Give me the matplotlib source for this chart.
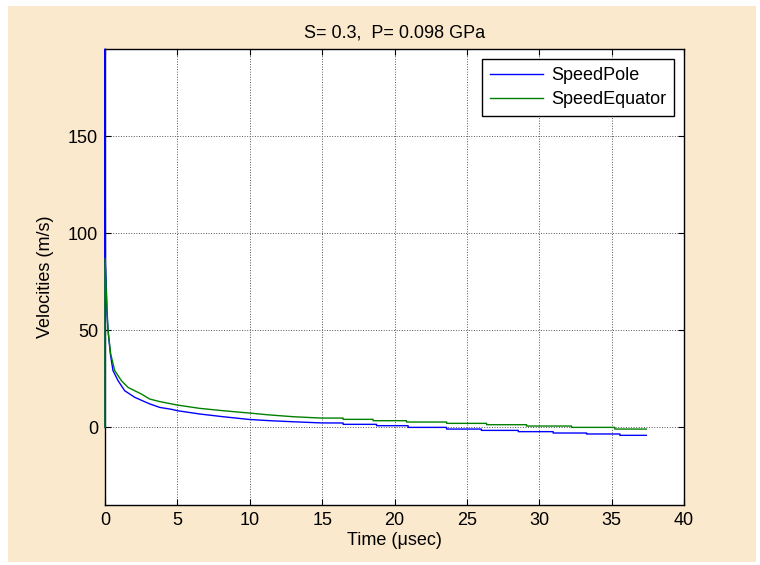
import matplotlib

matplotlib.use("Agg")

import matplotlib.pyplot as plt  # noqa: E402
from matplotlib.patches import Rectangle  # noqa: E402

plt.rcParams["font.family"] = ["Liberation Sans", "DejaVu Sans"]

_BG = "#fbe9cd"

title = "S= 0.3,  P= 0.098 GPa"
x_label = "Time (\u03bcsec)"
y_label = "Velocities (m/s)"
series_names = ["SpeedPole", "SpeedEquator"]

# SpeedPole (blue); tail is a staircase
pole_t = [0.0, 0.003, 0.03, 0.10, 0.14, 0.21, 0.37, 0.55, 0.90, 1.36, 2.05,
          3.09, 3.78, 4.6, 5.0, 6.54, 8.15, 9.95, 11.38, 13.0, 14.93, 16.45,
          16.45, 18.76, 18.76, 20.94, 20.94, 23.6, 23.6, 26.0, 26.0, 28.55,
          28.55, 30.96, 30.96, 33.27, 33.27, 35.57, 35.57, 37.4]
pole_v = [0.0, 195.0, 85.0, 70.0, 58.5, 49.9, 37.9, 29.3, 24.1, 18.9, 15.5,
          12.1, 10.3, 9.3, 8.6, 6.9, 5.5, 4.1, 3.45, 2.9, 2.3, 2.26,
          1.57, 1.57, 0.88, 0.88, 0.0, 0.0, -0.86, -0.86, -1.55, -1.55,
          -2.2, -2.2, -2.9, -2.9, -3.4, -3.4, -4.1, -4.1]

# SpeedEquator (green)
equator_t = [0.0, 0.003, 0.10, 0.21, 0.39, 0.67, 1.13, 1.59, 2.51, 3.09,
             3.78, 5.0, 6.54, 8.15, 9.95, 11.38, 13.0, 14.93, 16.45, 16.45,
             18.52, 18.52, 20.83, 20.83, 23.6, 23.6, 26.36, 26.36, 29.12,
             29.12, 32.23, 32.23, 35.22, 35.22, 37.4]
equator_v = [0.0, 87.0, 67.0, 50.0, 38.0, 29.3, 24.1, 20.6, 17.2, 14.6,
             13.3, 11.5, 9.8, 8.6, 7.4, 6.4, 5.5, 4.8, 4.8, 4.14,
             4.14, 3.45, 3.45, 2.76, 2.76, 2.07, 2.07, 1.38, 1.38,
             0.69, 0.69, 0.0, 0.0, -0.86, -0.86]

x_ticks = [0, 5, 10, 15, 20, 25, 30, 35, 40]
y_ticks = [0, 50, 100, 150]

fig = plt.figure(figsize=(7.6, 5.65), dpi=100, facecolor="white")
# peach panel with a thin white border, as in the exported MATLAB figure
fig.add_artist(Rectangle((8 / 760, 3 / 565), 748 / 760, 556 / 565,
                         transform=fig.transFigure, facecolor=_BG,
                         edgecolor="none", zorder=-10))
ax = fig.add_axes([105 / 760, 60 / 565, 579 / 760, 456 / 565])

# unclipped so the t=0 jump draws over the left spine, as in MATLAB
ax.plot(pole_t, pole_v, color="#0000ff", lw=1.0, label=series_names[0],
        clip_on=False, zorder=3)
ax.plot(equator_t, equator_v, color="#008000", lw=1.0,
        label=series_names[1], clip_on=False, zorder=3)

ax.set_xlim(0, 40)
ax.set_ylim(-40, 195)
ax.set_xticks(x_ticks)
ax.set_yticks(y_ticks)
ax.tick_params(direction="in", top=True, right=True, labelsize=13,
               length=4, width=0.8, pad=5)
ax.grid(True, color="#555555", linestyle=":", lw=0.7)
for sp in ax.spines.values():
    sp.set_linewidth(1.0)

ax.set_title(title, fontsize=13, pad=8)
ax.set_xlabel(x_label, fontsize=13, labelpad=2)
ax.set_ylabel(y_label, fontsize=13, labelpad=10)

leg = ax.legend(loc="upper right", fontsize=13, fancybox=False,
                framealpha=1.0, edgecolor="black", handlelength=2.9,
                handletextpad=0.45, borderaxespad=0.55, labelspacing=0.4,
                borderpad=0.45)
leg.get_frame().set_linewidth(1.0)

fig.savefig("out.png", facecolor=fig.get_facecolor())
